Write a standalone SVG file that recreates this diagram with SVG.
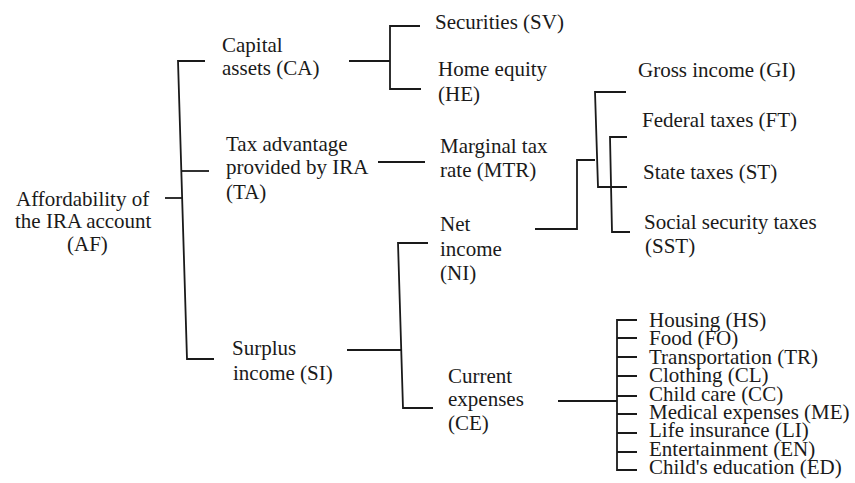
<svg xmlns="http://www.w3.org/2000/svg" width="855" height="483" viewBox="0 0 855 483">
<style>
text{font-family:"Liberation Serif","Times New Roman",serif;font-size:21px;fill:#1a1a1a}
.c path{fill:none;stroke:#1a1a1a;stroke-width:1.8}
</style>
<rect width="855" height="483" fill="#fff"/>
<g class="c" id="connectors">
<path d="M205,61 H178 L187,359 H214"/>
<path d="M181,171 H209"/>
<path d="M165,198 H182"/>
<path d="M349,61 H390"/>
<path d="M420,26 H390 V89 H421"/>
<path d="M378,162 H425"/>
<path d="M347,350 H401"/>
<path d="M428,243 H398 L403,408 H433"/>
<path d="M535,229 H577 V160 H595"/>
<path d="M626,92 H595 L598,187 H627"/>
<path d="M627,137 H610 L612,232 H630"/>
<path d="M558,401 H617"/>
<path d="M637,320 H617 V470 H637"/>
<path d="M617,338 H637 M617,357 H637 M617,376 H637 M617,396 H637 M617,414 H637 M617,433 H637 M617,452 H637"/>
</g>
<g id="AF"><text x="16" y="206">Affordability of</text><text x="15" y="228">the IRA account</text><text x="67" y="251">(AF)</text></g>
<g id="CA"><text x="222" y="52">Capital</text><text x="222" y="75">assets (CA)</text></g>
<g id="SV"><text x="435" y="29">Securities (SV)</text></g>
<g id="HE"><text x="438" y="76">Home equity</text><text x="438" y="101">(HE)</text></g>
<g id="TA"><text x="226" y="151">Tax advantage</text><text x="226" y="174">provided by IRA</text><text x="226" y="199">(TA)</text></g>
<g id="MTR"><text x="440" y="153">Marginal tax</text><text x="440" y="177">rate (MTR)</text></g>
<g id="NI"><text x="440" y="231">Net</text><text x="440" y="256">income</text><text x="440" y="280">(NI)</text></g>
<g id="SI"><text x="232" y="355">Surplus</text><text x="233" y="380">income (SI)</text></g>
<g id="CE"><text x="448" y="383">Current</text><text x="448" y="406">expenses</text><text x="448" y="430">(CE)</text></g>
<g id="GI"><text x="638" y="77">Gross income (GI)</text></g>
<g id="FT"><text x="642" y="127">Federal taxes (FT)</text></g>
<g id="ST"><text x="643" y="179">State taxes (ST)</text></g>
<g id="SST"><text x="644" y="229">Social security taxes</text><text x="645" y="253">(SST)</text></g>
<g id="HS"><text x="649" y="327">Housing (HS)</text></g>
<g id="FO"><text x="649" y="345">Food (FO)</text></g>
<g id="TR"><text x="649" y="364">Transportation (TR)</text></g>
<g id="CL"><text x="649" y="382">Clothing (CL)</text></g>
<g id="CC"><text x="649" y="401">Child care (CC)</text></g>
<g id="ME"><text x="649" y="419">Medical expenses (ME)</text></g>
<g id="LI"><text x="649" y="437">Life insurance (LI)</text></g>
<g id="EN"><text x="649" y="456">Entertainment (EN)</text></g>
<g id="ED"><text x="649" y="474">Child's education (ED)</text></g>
</svg>
